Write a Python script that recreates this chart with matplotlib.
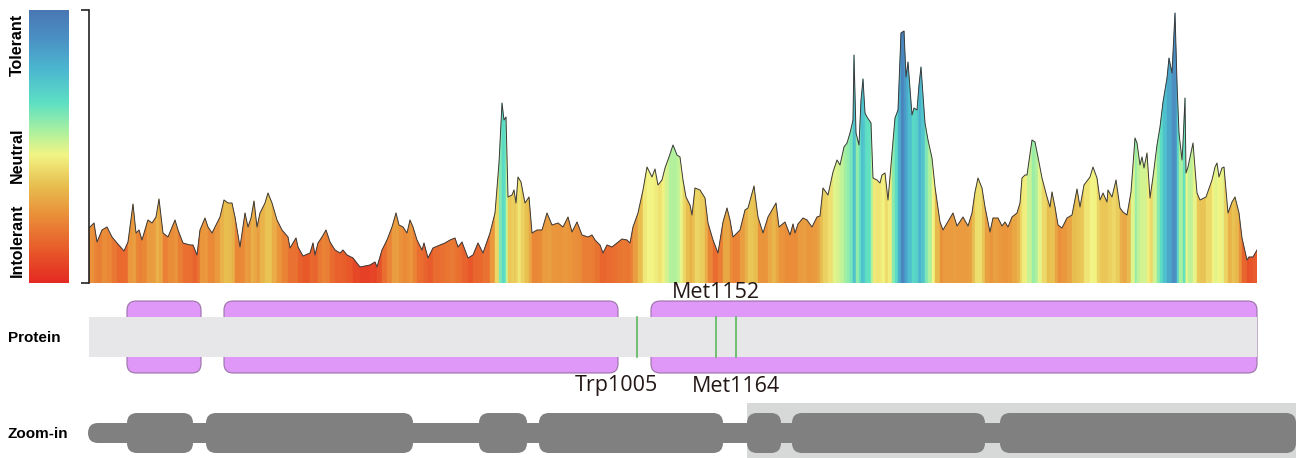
import numpy as np
import matplotlib
matplotlib.use('Agg')
import matplotlib.pyplot as plt
from matplotlib.colors import LinearSegmentedColormap, PowerNorm
from matplotlib.collections import PolyCollection
from matplotlib.patches import FancyBboxPatch, Rectangle

W, H = 1310, 458

# tolerance profile (position along the protein, score)
pos = [89, 94, 97, 102, 107, 112, 117, 124, 128, 133, 136, 139, 142, 147, 148, 152, 156, 159, 163, 168,
       175, 178, 183, 190, 193, 197, 200, 205, 208, 212, 215, 220, 224, 228, 232, 235, 240, 245, 248, 251,
       254, 257, 260, 265, 268, 272, 277, 282, 288, 290, 296, 298, 303, 310, 313, 315, 318, 322, 326, 330,
       335, 340, 343, 347, 353, 360, 370, 375, 377, 382, 387, 392, 396, 399, 403, 407, 410, 413, 417, 422,
       424, 428, 433, 440, 445, 450, 455, 458, 462, 468, 473, 478, 483, 490, 495, 499, 502, 504, 506, 508,
       512, 514, 516, 518, 521, 525, 529, 532, 537, 542, 547, 552, 558, 563, 568, 572, 577, 582, 588, 592,
       595, 600, 603, 607, 612, 617, 622, 627, 630, 633, 638, 643, 647, 652, 655, 658, 662, 665, 669, 673,
       677, 680, 683, 686, 690, 692, 695, 700, 705, 708, 713, 718, 723, 727, 730, 733, 740, 745, 748, 754,
       758, 763, 768, 772, 776, 779, 785, 790, 793, 795, 798, 803, 807, 812, 817, 820, 823, 828, 833, 837,
       840, 844, 847, 850, 853, 854, 856, 859, 861, 863, 865, 867, 871, 873, 877, 880, 882, 885, 888, 892,
       895, 898, 901, 904, 906, 908, 912, 914, 917, 919, 921, 925, 928, 932, 935, 940, 943, 953, 957, 963,
       968, 972, 975, 978, 982, 985, 990, 993, 998, 1002, 1005, 1008, 1012, 1017, 1020, 1022, 1025, 1027, 1032, 1035,
       1038, 1042, 1047, 1050, 1052, 1055, 1058, 1062, 1067, 1072, 1077, 1080, 1084, 1090, 1093, 1097, 1100, 1103, 1107, 1108,
       1112, 1116, 1120, 1123, 1127, 1131, 1135, 1137, 1140, 1142, 1144, 1147, 1150, 1153, 1157, 1160, 1163, 1167, 1169, 1172,
       1175, 1177, 1179, 1182, 1183, 1185, 1186, 1188, 1193, 1197, 1200, 1206, 1212, 1215, 1217, 1219, 1222, 1224, 1228, 1232,
       1235, 1239, 1242, 1247, 1249, 1253, 1257]
tolerance = [55, 60, 41, 53, 56, 46, 40, 32, 41, 79, 50, 53, 43, 60, 63, 60, 66, 84, 50, 46,
             63, 53, 40, 38, 38, 28, 53, 65, 56, 50, 56, 66, 83, 80, 80, 66, 36, 70, 56, 65,
             82, 56, 70, 80, 90, 80, 63, 53, 46, 35, 45, 36, 27, 30, 40, 28, 40, 46, 53, 41,
             33, 30, 33, 28, 25, 16, 18, 21, 16, 33, 43, 56, 70, 58, 56, 50, 63, 56, 43, 33,
             40, 25, 35, 38, 40, 43, 45, 36, 41, 25, 28, 40, 30, 50, 70, 120, 180, 163, 166, 86,
             88, 93, 80, 106, 101, 80, 86, 50, 53, 53, 70, 58, 60, 56, 66, 51, 61, 48, 46, 48,
             43, 38, 30, 38, 36, 40, 44, 43, 40, 56, 70, 93, 116, 106, 114, 98, 103, 115, 126, 138,
             128, 126, 103, 86, 78, 68, 95, 93, 85, 60, 43, 30, 61, 75, 63, 46, 53, 73, 75, 97,
             66, 50, 66, 73, 80, 56, 61, 48, 59, 50, 59, 65, 63, 56, 66, 67, 95, 88, 111, 123,
             118, 136, 140, 150, 163, 228, 150, 138, 183, 204, 170, 166, 160, 105, 103, 100, 108, 110, 83, 130,
             165, 173, 250, 252, 206, 221, 168, 175, 173, 198, 216, 160, 143, 125, 96, 61, 53, 70, 57, 66,
             57, 70, 91, 105, 95, 76, 51, 65, 65, 57, 61, 56, 66, 70, 80, 105, 108, 108, 143, 141,
             126, 105, 86, 76, 91, 76, 58, 55, 65, 68, 94, 76, 98, 106, 116, 105, 83, 90, 81, 93,
             86, 103, 75, 71, 68, 91, 145, 140, 118, 126, 115, 130, 85, 106, 138, 156, 181, 205, 225, 210,
             270, 200, 150, 123, 140, 185, 110, 116, 140, 90, 83, 86, 103, 116, 120, 106, 115, 116, 70, 81,
             86, 70, 45, 23, 26, 26, 33]

domains = [(127, 201), (224, 618), (651, 1257)]
mut_pos = [637, 716, 736]
mut_labels = ['Trp1005', 'Met1152', 'Met1164']
exons = [(127, 193), (206, 413), (479, 527), (539, 723), (747, 781), (792, 985), (1000, 1296)]
zoom_span = (747, 1296)

cmap = LinearSegmentedColormap.from_list('tol', [
    (0.0, '#e42a22'), (0.12, '#e85a2a'), (0.25, '#ea903a'), (0.36, '#e8c050'),
    (0.47, '#f2f585'), (0.56, '#a8f0a0'), (0.66, '#5ee0c4'), (0.78, '#4cb8d0'),
    (0.9, '#4a90c4'), (1.0, '#4a78b4')])
norm = PowerNorm(gamma=0.8, vmin=10, vmax=270, clip=True)


def fx(px):
    return px / W


def fy(py):
    return 1 - py / H


fig = plt.figure(figsize=(W / 100, H / 100), dpi=100)

# main profile
ax = fig.add_axes([fx(89), fy(283), (1257 - 89) / W, 273 / H])
polys, cols = [], []
for i in range(len(pos) - 1):
    x0, x1 = pos[i], pos[i + 1]
    y0, y1 = tolerance[i], tolerance[i + 1]
    polys.append([(x0, 0), (x0, y0), (x1, y1), (x1, 0)])
    cols.append(cmap(norm((y0 + y1) / 2)))
ax.add_collection(PolyCollection(polys, facecolors=cols, edgecolors=cols, linewidths=0.3))
ax.plot(pos, tolerance, color='#3a3a3a', lw=0.7)
ax.set_xlim(89, 1257)
ax.set_ylim(0, 273)
for s in ['top', 'right', 'bottom']:
    ax.spines[s].set_visible(False)
ax.spines['left'].set_linewidth(1.2)
ax.spines['left'].set_color('#222222')
ax.spines['left'].set_zorder(5)
ax.set_xticks([])
ax.set_yticks([0, 273])
ax.set_yticklabels([])
ax.tick_params(axis='y', length=6, width=1.2, color='#222222')

# colour bar
cax = fig.add_axes([fx(29), fy(283), 40 / W, 273 / H])
cax.imshow(np.linspace(0, 1, 256)[:, None], aspect='auto', cmap=cmap, origin='lower', extent=[0, 1, 0, 1])
cax.axis('off')
for label, py in [('Tolerant', 45), ('Neutral', 155), ('Intolerant', 240)]:
    fig.text(fx(17), fy(py), label, rotation=90, ha='center', va='center',
             fontsize=11.5, fontweight='bold', family='Liberation Sans')

fig.text(fx(8), fy(338), 'Protein', ha='left', va='center', fontsize=11, fontweight='bold', family='Liberation Sans')
fig.text(fx(8), fy(434), 'Zoom-in', ha='left', va='center', fontsize=11, fontweight='bold', family='Liberation Sans')

# protein track
axp = fig.add_axes([fx(89), fy(380), (1257 - 89) / W, 85 / H])
axp.set_xlim(89, 1257)
axp.set_ylim(380, 295)
axp.axis('off')
for d0, d1 in domains:
    axp.add_patch(FancyBboxPatch((d0, 301), d1 - d0, 72, boxstyle='round,pad=0,rounding_size=9',
                                 fc='#df98f7', ec='#9a72a8', lw=0.8, clip_on=False))
axp.add_patch(Rectangle((89, 317), 1257 - 89, 40, fc='#e7e7e9', ec='none', zorder=3))
for m, lab in zip(mut_pos, mut_labels):
    axp.plot([m, m], [317, 357], color='#5cb85c', lw=1.2, zorder=4)
    if lab == 'Met1152':
        axp.text(m, 292, lab, ha='center', va='center', fontsize=15.5, family='Open Sans',
                 color='#231815', clip_on=False)
    else:
        dx = -21 if lab == 'Trp1005' else 0
        axp.text(m + dx, 386, lab, ha='center', va='center', fontsize=15.5, family='Open Sans',
                 color='#231815', clip_on=False)

# zoom-in track
axz = fig.add_axes([0, 0, 1, 1], zorder=-1)
axz.set_xlim(0, W)
axz.set_ylim(H, 0)
axz.axis('off')
axz.add_patch(Rectangle((zoom_span[0], 403), zoom_span[1] - zoom_span[0], H - 403, fc='#d7d8d8', ec='none'))
axz.add_patch(FancyBboxPatch((88, 423), exons[-1][1] - 88, 20, boxstyle='round,pad=0,rounding_size=10',
                             fc='#808080', ec='none'))
for e0, e1 in exons:
    axz.add_patch(FancyBboxPatch((e0, 413), e1 - e0, 40, boxstyle='round,pad=0,rounding_size=10',
                                 fc='#808080', ec='none'))

fig.savefig('out.png', dpi=100)
